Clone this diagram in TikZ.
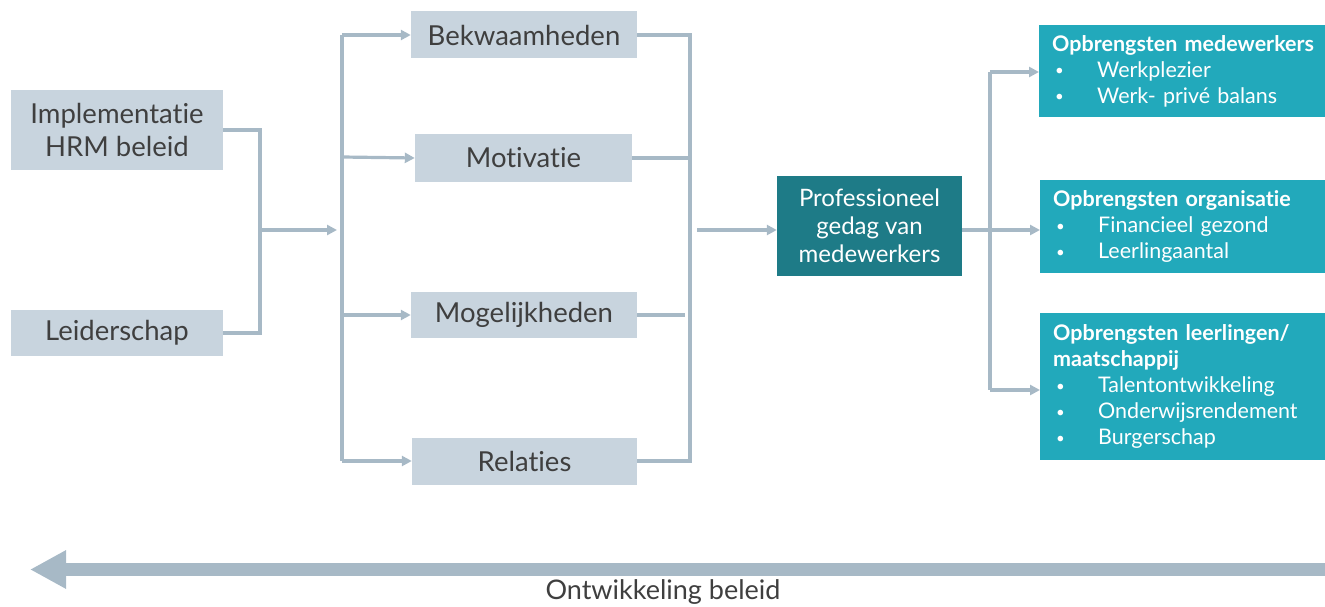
\documentclass[tikz,border=0pt]{standalone}
\usepackage{fontspec}
\setmainfont{Lato}[Ligatures={NoCommon}]
\usetikzlibrary{arrows.meta}
\definecolor{boxgray}{HTML}{C8D4DE}
\definecolor{linegray}{HTML}{A7B9C6}
\definecolor{darkteal}{HTML}{1E7B87}
\definecolor{teal}{HTML}{22A9BB}
\definecolor{txt}{HTML}{3F3F3F}
\tikzset{
  graybox/.style={fill=boxgray, text=txt, inner sep=0pt, align=center, font=\fontsize{27.5}{33}\selectfont},
  tealbox/.style={fill=teal, text=white, inner sep=0pt, anchor=north west, align=left, font=\fontsize{21.5}{26}\selectfont},
  conn/.style={draw=linegray, line width=3.2pt},
  arr/.style={conn, -{Triangle[length=10pt,width=10pt]}},
}
\newcommand{\itm}[1]{\hspace*{16pt}\makebox[42pt][l]{\raisebox{1.5pt}{\fontsize{15}{15}\selectfont\textbullet}}#1}
\newcommand{\hdg}[1]{\hspace*{13pt}\textbf{#1}}
\begin{document}
\begin{tikzpicture}[x=1pt,y=-1pt]
\useasboundingbox (0,0) rectangle (1325,607);
% left boxes
\node[graybox, minimum width=212pt, minimum height=80pt] (impl) at (117,130) {Implementatie\\HRM beleid};
\node[graybox, minimum width=212pt, minimum height=46pt] (leid) at (117,333) {Leiderschap};
% middle boxes
\node[graybox, minimum width=226pt, minimum height=47pt] (bek) at (524,35) {Bekwaamheden};
\node[graybox, minimum width=217pt, minimum height=48pt] (mot) at (523.5,158) {Motivatie};
\node[graybox, minimum width=226pt, minimum height=46pt] (mog) at (524,315) {Mogelijkheden};
\node[graybox, minimum width=225pt, minimum height=47pt] (rel) at (524.5,461) {Relaties};
% professional
\node[fill=darkteal, text=white, inner sep=0pt, align=center, minimum width=185pt, minimum height=100pt, font=\fontsize{24}{28}\selectfont] (prof) at (869.5,226) {Professioneel\\gedag van\\medewerkers};
% right boxes
\node[tealbox, minimum width=286pt, minimum height=92pt, text width=286pt] (o1) at (1039,25) {\hdg{Opbrengsten medewerkers}\\\itm{Werkplezier}\\\itm{Werk- privé balans}};
\node[tealbox, minimum width=285pt, minimum height=93pt, text width=285pt] (o2) at (1040,180) {\hdg{Opbrengsten organisatie}\\\itm{Financieel gezond}\\\itm{Leerlingaantal}};
\node[tealbox, minimum width=285pt, minimum height=147pt, text width=285pt] (o3) at (1040,313) {\hdg{Opbrengsten leerlingen/}\\\hdg{maatschappij}\\\itm{Talentontwikkeling}\\\itm{Onderwijsrendement}\\\itm{Burgerschap}};
% coordinates
\coordinate (j1) at (260,230);
\coordinate (j1e) at (337,230);
\coordinate (s1t) at (342,35);
\coordinate (s1b) at (342,461);
\coordinate (j2t) at (690,35);
\coordinate (j2b) at (690,461);
\coordinate (j2m) at (697,230);
\coordinate (j3t) at (990,72);
\coordinate (j3b) at (990,390);
\coordinate (j3m) at (990,230);
% left bracket
\draw[conn] (impl.east |- 0,130) -- (260,130) -- (260,333) -- (leid.east |- 0,333);
\draw[arr] (j1) -- (j1e);
% splitter
\draw[conn] (s1t) -- (s1b);
\draw[arr] (s1t) -- (bek.west);
\draw[arr] (342,157) -- (mot.west);
\draw[arr] (342,315) -- (mog.west);
\draw[arr] (s1b) -- (rel.west);
% right bracket
\draw[conn] (bek.east) -- (j2t) -- (j2b) -- (rel.east);
\draw[conn] (mot.east) -- (690,158);
\draw[conn] (mog.east) -- (685,315);
\draw[arr] (j2m) -- (prof.west |- j2m);
% outputs
\draw[conn] (j3t) -- (j3b);
\draw[arr] (prof.east |- j3m) -- (o2.west |- j3m);
\draw[arr] (j3t) -- (o1.west |- j3t);
\draw[arr] (j3b) -- (o3.west |- j3b);
% bottom arrow
\coordinate (bR) at (1325,569.5);
\coordinate (bL) at (30,569.5);
\draw[draw=linegray, line width=13pt, -{Triangle[length=36pt,width=36pt]}] (bR) -- (bL);
\node[text=txt, font=\fontsize{27}{30}\selectfont, inner sep=0pt] (ont) at (663,592) {Ontwikkeling beleid};
\end{tikzpicture}
\end{document}
